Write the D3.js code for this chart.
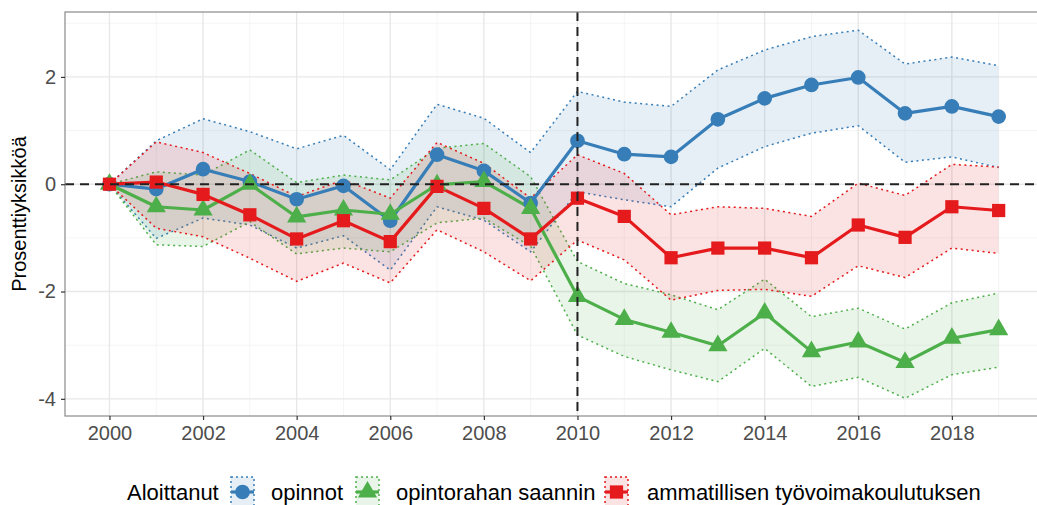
<!DOCTYPE html>
<html>
<head>
<meta charset="utf-8">
<script src="https://cdn.jsdelivr.net/npm/d3@7"></script>
<style>
  html, body { margin: 0; padding: 0; background: #fff; }
  svg { display: block; font-family: "Liberation Sans", Arial, sans-serif; }
</style>
</head>
<body>
<svg id="chart" width="1037" height="505"></svg>
<script>
// Years and the three estimated series with their confidence bounds
const years = [2000,2001,2002,2003,2004,2005,2006,2007,2008,2009,2010,2011,2012,2013,2014,2015,2016,2017,2018,2019];

const opinnot   = [0,-0.09,0.28,0.05,-0.28,-0.03,-0.68,0.55,0.25,-0.35,0.81,0.56,0.51,1.21,1.60,1.85,1.99,1.32,1.45,1.26];
const opinnotLo = [0,-1.01,-0.63,-0.76,-1.19,-0.96,-1.60,-0.42,-0.67,-1.26,-0.14,-0.29,-0.42,0.30,0.70,0.95,1.09,0.41,0.51,0.31];
const opinnotHi = [0,0.81,1.22,0.98,0.66,0.91,0.27,1.49,1.23,0.59,1.73,1.53,1.45,2.13,2.50,2.75,2.87,2.24,2.37,2.21];

const tuki      = [0,-0.42,-0.48,0.00,-0.61,-0.48,-0.56,-0.01,0.05,-0.45,-2.09,-2.52,-2.76,-3.01,-2.40,-3.12,-2.94,-3.32,-2.87,-2.71];
const tukiLo    = [0,-1.13,-1.16,-0.70,-1.30,-1.19,-1.26,-0.72,-0.63,-1.16,-2.81,-3.21,-3.46,-3.68,-3.06,-3.77,-3.60,-3.99,-3.55,-3.41];
const tukiHi    = [0,0.23,0.17,0.64,0.03,0.17,0.08,0.67,0.76,0.14,-1.44,-1.85,-2.06,-2.34,-1.77,-2.47,-2.31,-2.70,-2.21,-2.03];

const koulutus   = [0,0.04,-0.19,-0.57,-1.02,-0.68,-1.07,-0.04,-0.45,-1.02,-0.26,-0.60,-1.37,-1.19,-1.19,-1.37,-0.76,-0.99,-0.42,-0.49];
const koulutusLo = [0,-0.82,-0.98,-1.38,-1.81,-1.47,-1.84,-0.85,-1.26,-1.80,-1.04,-1.41,-2.16,-1.98,-1.96,-2.09,-1.52,-1.74,-1.19,-1.29];
const koulutusHi = [0,0.79,0.59,0.20,-0.23,0.08,-0.26,0.78,0.39,-0.26,0.55,0.20,-0.57,-0.42,-0.45,-0.60,0.02,-0.21,0.37,0.32];

const seriesNames = ["opinnot", "opintorahan saannin", "ammatillisen työvoimakoulutuksen"];
const seriesColors = ["#377EB8", "#4DAF4A", "#E41A1C"];
const seriesShapes = ["circle", "triangle", "square"];
const legendTitle = "Aloittanut";
const yTitle = "Prosenttiyksikköä";

const xTicks = [2000,2002,2004,2006,2008,2010,2012,2014,2016,2018];
const xMinor = [2001,2003,2005,2007,2009,2011,2013,2015,2017,2019];
const yTicks = [-4,-2,0,2];
const yTickLabels = ["-4","-2","0","2"];
const yMinor = [-3,-1,1,3];
const refYear = 2010;
const refValue = 0;

const series = [
  { name: seriesNames[0], color: seriesColors[0], shape: seriesShapes[0], v: opinnot, lo: opinnotLo, hi: opinnotHi },
  { name: seriesNames[1], color: seriesColors[1], shape: seriesShapes[1], v: tuki, lo: tukiLo, hi: tukiHi },
  { name: seriesNames[2], color: seriesColors[2], shape: seriesShapes[2], v: koulutus, lo: koulutusLo, hi: koulutusHi }
];

const svg = d3.select("#chart");
const panel = { left: 65, top: 12, bottom: 416 };

// ggplot-style 5% expansion of the x range
const x = d3.scaleLinear().domain([1999.05, 2019.95]).range([panel.left, panel.left + 46.8 * 20.9]);
const y = d3.scaleLinear().domain([-4.32, 3.21]).range([panel.bottom, panel.top]);
const panelRight = x.range()[1];

const defs = svg.append("defs");
defs.append("clipPath").attr("id", "panelClip")
  .append("rect").attr("x", panel.left).attr("y", panel.top)
  .attr("width", panelRight - panel.left).attr("height", panel.bottom - panel.top);

// grid
const grid = svg.append("g");
grid.selectAll(".xminor").data(xMinor).join("line")
  .attr("x1", d => x(d)).attr("x2", d => x(d)).attr("y1", panel.top).attr("y2", panel.bottom)
  .attr("stroke", "#F2F2F2").attr("stroke-width", 0.8);
grid.selectAll(".yminor").data(yMinor).join("line")
  .attr("y1", d => y(d)).attr("y2", d => y(d)).attr("x1", panel.left).attr("x2", panelRight)
  .attr("stroke", "#F2F2F2").attr("stroke-width", 0.8);
grid.selectAll(".xmajor").data(xTicks).join("line")
  .attr("x1", d => x(d)).attr("x2", d => x(d)).attr("y1", panel.top).attr("y2", panel.bottom)
  .attr("stroke", "#E8E8E8").attr("stroke-width", 1.4);
grid.selectAll(".ymajor").data(yTicks).join("line")
  .attr("y1", d => y(d)).attr("y2", d => y(d)).attr("x1", panel.left).attr("x2", panelRight)
  .attr("stroke", "#E8E8E8").attr("stroke-width", 1.4);

const plot = svg.append("g").attr("clip-path", "url(#panelClip)");

const area = (s) => d3.area().x((d, i) => x(years[i])).y0((d, i) => y(s.lo[i])).y1((d, i) => y(s.hi[i]));
const lineOf = (arr) => d3.line().x((d, i) => x(years[i])).y((d, i) => y(arr[i]));

// ribbons with dotted borders
series.forEach(s => {
  plot.append("path").datum(years).attr("d", area(s)).attr("fill", s.color).attr("fill-opacity", 0.12);
  [s.lo, s.hi].forEach(b => {
    plot.append("path").datum(years).attr("d", lineOf(b))
      .attr("fill", "none").attr("stroke", s.color).attr("stroke-width", 1.5)
      .attr("stroke-dasharray", "2,3.5");
  });
});

// main lines
series.forEach(s => {
  plot.append("path").datum(years).attr("d", lineOf(s.v))
    .attr("fill", "none").attr("stroke", s.color).attr("stroke-width", 3.2)
    .attr("stroke-linejoin", "round");
});

const symbolFor = (shape) => shape === "circle" ? d3.symbol(d3.symbolCircle, 170)
  : shape === "triangle" ? d3.symbol(d3.symbolTriangle, 160)
  : d3.symbol(d3.symbolSquare, 175);

// markers
series.forEach(s => {
  plot.selectAll(null).data(years).join("path")
    .attr("transform", (d, i) => `translate(${x(d)},${y(s.v[i])})`)
    .attr("d", symbolFor(s.shape)())
    .attr("fill", s.color);
});

// reference lines
plot.append("line").attr("x1", panel.left).attr("x2", panelRight)
  .attr("y1", y(refValue)).attr("y2", y(refValue))
  .attr("stroke", "#222").attr("stroke-width", 2).attr("stroke-dasharray", "9,6");
plot.append("line").attr("x1", x(refYear)).attr("x2", x(refYear))
  .attr("y1", panel.top).attr("y2", panel.bottom)
  .attr("stroke", "#222").attr("stroke-width", 2).attr("stroke-dasharray", "9,6");

// panel border
svg.append("rect").attr("x", panel.left).attr("y", panel.top)
  .attr("width", panelRight - panel.left).attr("height", panel.bottom - panel.top)
  .attr("fill", "none").attr("stroke", "#8a8a8a").attr("stroke-width", 1.2);

// axes
const xAxis = d3.axisBottom(x).tickValues(xTicks).tickFormat(d3.format("d")).tickSize(4).tickPadding(6);
const gx = svg.append("g").attr("transform", `translate(0,${panel.bottom})`).call(xAxis);
gx.select(".domain").remove();
gx.selectAll(".tick line").attr("stroke", "#333").attr("stroke-width", 1.2);
gx.selectAll(".tick text").attr("fill", "#4D4D4D").attr("font-size", 20).attr("font-family", "Liberation Sans, Arial, sans-serif");

const yAxis = d3.axisLeft(y).tickValues(yTicks).tickFormat((d, i) => yTickLabels[i]).tickSize(4).tickPadding(5);
const gy = svg.append("g").attr("transform", `translate(${panel.left},0)`).call(yAxis);
gy.select(".domain").remove();
gy.selectAll(".tick line").attr("stroke", "#333").attr("stroke-width", 1.2);
gy.selectAll(".tick text").attr("fill", "#4D4D4D").attr("font-size", 20).attr("font-family", "Liberation Sans, Arial, sans-serif");

svg.append("text")
  .attr("transform", `translate(26,${(panel.top + panel.bottom) / 2}) rotate(-90)`)
  .attr("text-anchor", "middle").attr("font-size", 20).attr("fill", "#000")
  .text(yTitle);

// legend
const legY = 492;
const legend = svg.append("g");
legend.append("text").attr("x", 127).attr("y", legY).attr("dy", "0.35em")
  .attr("font-size", 22).attr("fill", "#000").text(legendTitle);

const keyX = [231, 356, 605];
const labelX = [271, 396, 647];
series.forEach((s, i) => {
  const kw = 23, kh = 30;
  const g = legend.append("g").attr("transform", `translate(${keyX[i]},${legY - 15})`);
  g.append("rect").attr("width", kw).attr("height", kh)
    .attr("fill", s.color).attr("fill-opacity", 0.12)
    .attr("stroke", s.color).attr("stroke-width", 1.5).attr("stroke-dasharray", "2,3");
  g.append("line").attr("x1", 0).attr("x2", kw).attr("y1", 15).attr("y2", 15)
    .attr("stroke", s.color).attr("stroke-width", 3.2);
  g.append("path").attr("transform", `translate(${kw / 2},15)`)
    .attr("d", symbolFor(s.shape)()).attr("fill", s.color);
  legend.append("text").attr("x", labelX[i]).attr("y", legY).attr("dy", "0.35em")
    .attr("font-size", 22).attr("fill", "#000").text(s.name);
});
</script>
</body>
</html>
